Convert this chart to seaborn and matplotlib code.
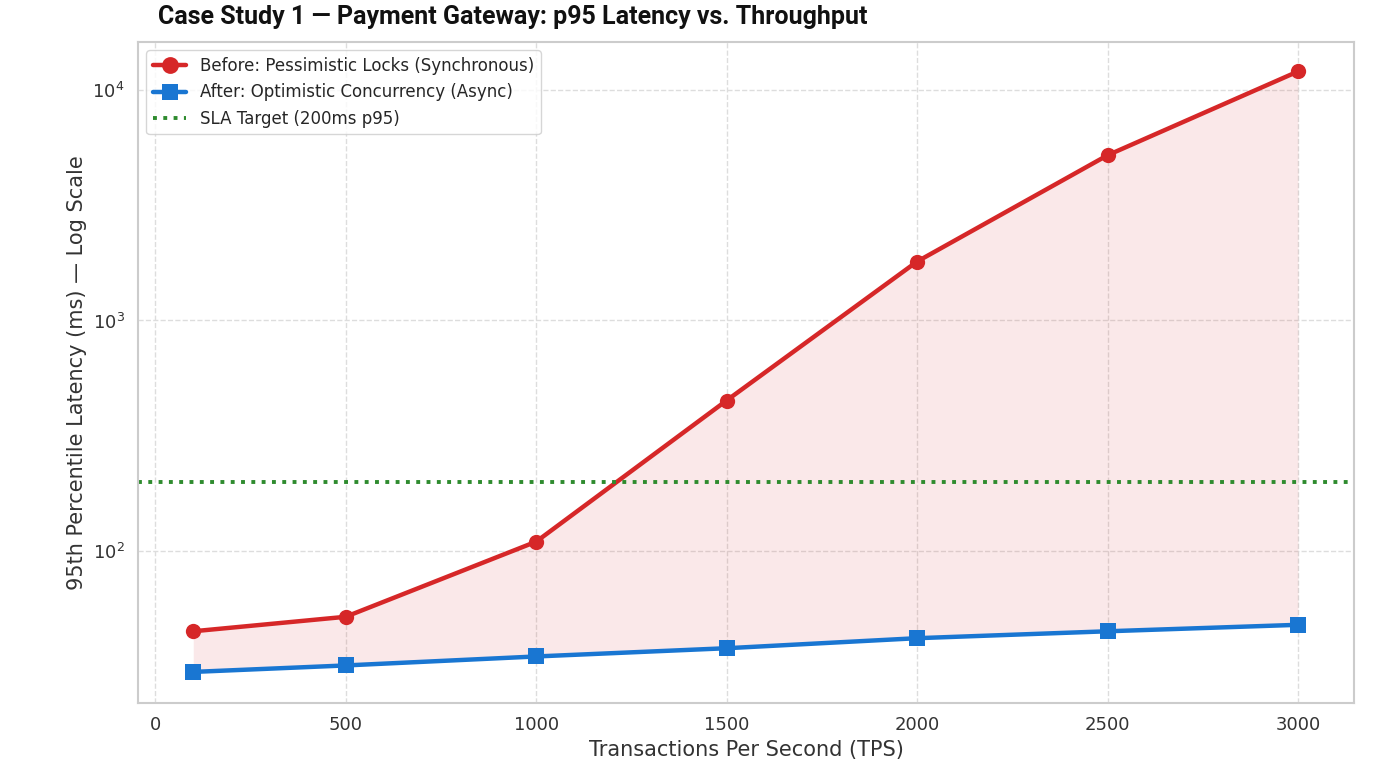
import matplotlib
matplotlib.use("Agg")
import matplotlib.pyplot as plt
import seaborn as sns
import pandas as pd

# 데이터
tps = [100, 500, 1000, 1500, 2000, 2500, 3000]
before_ms = [45, 52, 110, 450, 1800, 5200, 12000]
after_ms = [30, 32, 35, 38, 42, 45, 48]
sla_ms = 200

sns.set_theme(style="whitegrid")
plt.rcParams['font.family'] = ['DejaVu Sans']

df = pd.DataFrame({'tps': tps, 'before': before_ms, 'after': after_ms})

fig = plt.figure(figsize=(14, 7.63), dpi=100)
ax = fig.add_axes([138/1400, 60/763, (1354-138)/1400, (703-42)/763])

sns.lineplot(data=df, x='tps', y='before', ax=ax, color='#d62728', lw=3.2,
             marker='o', markersize=11, markeredgewidth=0,
             label='Before: Pessimistic Locks (Synchronous)')
sns.lineplot(data=df, x='tps', y='after', ax=ax, color='#1976d2', lw=3.2,
             marker='s', markersize=11, markeredgewidth=0,
             label='After: Optimistic Concurrency (Async)')
ax.axhline(sla_ms, color='#2e8b2e', ls=':', lw=2.8, label='SLA Target (200ms p95)')
ax.fill_between(tps, after_ms, before_ms, color='#d62728', alpha=0.1, lw=0)

ax.set_yscale('log')
ax.set_ylim(22, 16100)
ax.set_xlim(-45, 3147)
ax.set_xticks([0, 500, 1000, 1500, 2000, 2500, 3000])
ax.tick_params(labelsize=13, colors='#333333')
ax.grid(True, which='major', ls='--', color='#dddddd', lw=1)
ax.grid(False, which='minor')
for s in ax.spines.values():
    s.set_color('#cccccc')
    s.set_linewidth(1.5)

ax.set_xlabel('Transactions Per Second (TPS)', fontsize=15, color='#333333')
ax.set_ylabel('95th Percentile Latency (ms) — Log Scale', fontsize=15, color='#333333')
ax.legend(loc='upper left', fontsize=12, frameon=True, edgecolor='#cccccc', markerscale=1.1)

fig.text(158/1400, 1 - 17/763, 'Case Study 1 — Payment Gateway: p95 Latency vs. Throughput',
         fontsize=18, fontweight='bold', family=['Roboto', 'DejaVu Sans'],
         fontstretch='condensed', va='center', ha='left', color='#111111')

fig.savefig('out.png', dpi=100)
